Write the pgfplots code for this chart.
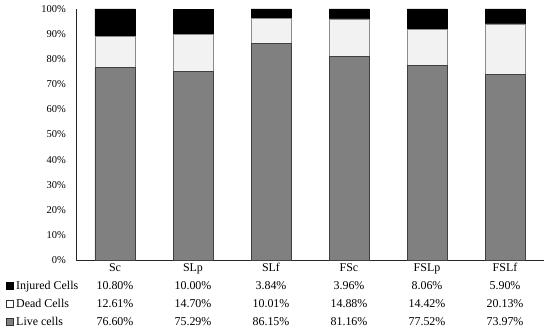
\documentclass[border=0pt]{standalone}
\usepackage{fontspec}
\setmainfont{Liberation Serif}
\usepackage{pgfplots}
\pgfplotsset{compat=1.18}
\definecolor{livec}{HTML}{808080}
\definecolor{deadc}{HTML}{F2F2F2}
\begin{document}
\begin{tikzpicture}[x=1bp,y=1bp]
\begin{axis}[
  at={(0,0)}, anchor=south west,
  scale only axis, width=468bp, height=251bp,
  ybar stacked, bar width=40bp,
  xmin=-0.5, xmax=5.5, ymin=0, ymax=100,
  xtick={0,1,2,3,4,5},
  xticklabels={Sc,SLp,SLf,FSc,FSLp,FSLf},
  ytick={0,10,...,100},
  yticklabel={\pgfmathprintnumber{\tick}\%},
  /pgf/number format/assume math mode=true,
  axis x line*=bottom, axis y line*=left,
  axis line style={-, black!85, line width=0.8pt},
  major tick length=0pt,
  tick label style={font=\fontsize{10.5}{12}\selectfont},
  xticklabel style={anchor=base, yshift=-11bp, inner sep=0pt, font=\fontsize{12}{14}\selectfont},
  yticklabel style={anchor=east, xshift=-10bp, inner sep=0pt},
  clip=false,
]
\addplot[fill=livec, draw=black!75, line width=0.6pt] coordinates {(0,76.60) (1,75.29) (2,86.15) (3,81.16) (4,77.52) (5,73.97)};
\addplot[fill=deadc, draw=black!45, line width=0.6pt] coordinates {(0,12.61) (1,14.70) (2,10.01) (3,14.88) (4,14.42) (5,20.13)};
\addplot[fill=black, draw=black, line width=0.6pt] coordinates {(0,10.80) (1,10.00) (2,3.84) (3,3.96) (4,8.06) (5,5.90)};
\end{axis}
\path[use as bounding box] (-76,-71) rectangle (474,260);
\begin{scope}[every node/.style={font=\fontsize{12}{14}\selectfont, inner sep=0pt}]
\foreach \x/\a/\b/\c in {39/10.80/12.61/76.60, 117/10.00/14.70/75.29, 195/3.84/10.01/86.15, 273/3.96/14.88/81.16, 351/8.06/14.42/77.52, 429/5.90/20.13/73.97}{
  \node[anchor=base] at (\x,-29) {\a\%};
  \node[anchor=base] at (\x,-47) {\b\%};
  \node[anchor=base] at (\x,-65) {\c\%};
}
\node[anchor=base west] at (-60,-29) {Injured Cells};
\node[anchor=base west] at (-60,-47) {Dead Cells};
\node[anchor=base west] at (-60,-65) {Live cells};
\draw[black, fill=black, line width=0.5pt] (-70,-29) rectangle (-63,-22);
\draw[black!80, fill=white, line width=0.5pt] (-70,-47) rectangle (-63,-40);
\draw[black!80, fill=livec, line width=0.5pt] (-70,-65) rectangle (-63,-58);
\end{scope}
\end{tikzpicture}
\end{document}
